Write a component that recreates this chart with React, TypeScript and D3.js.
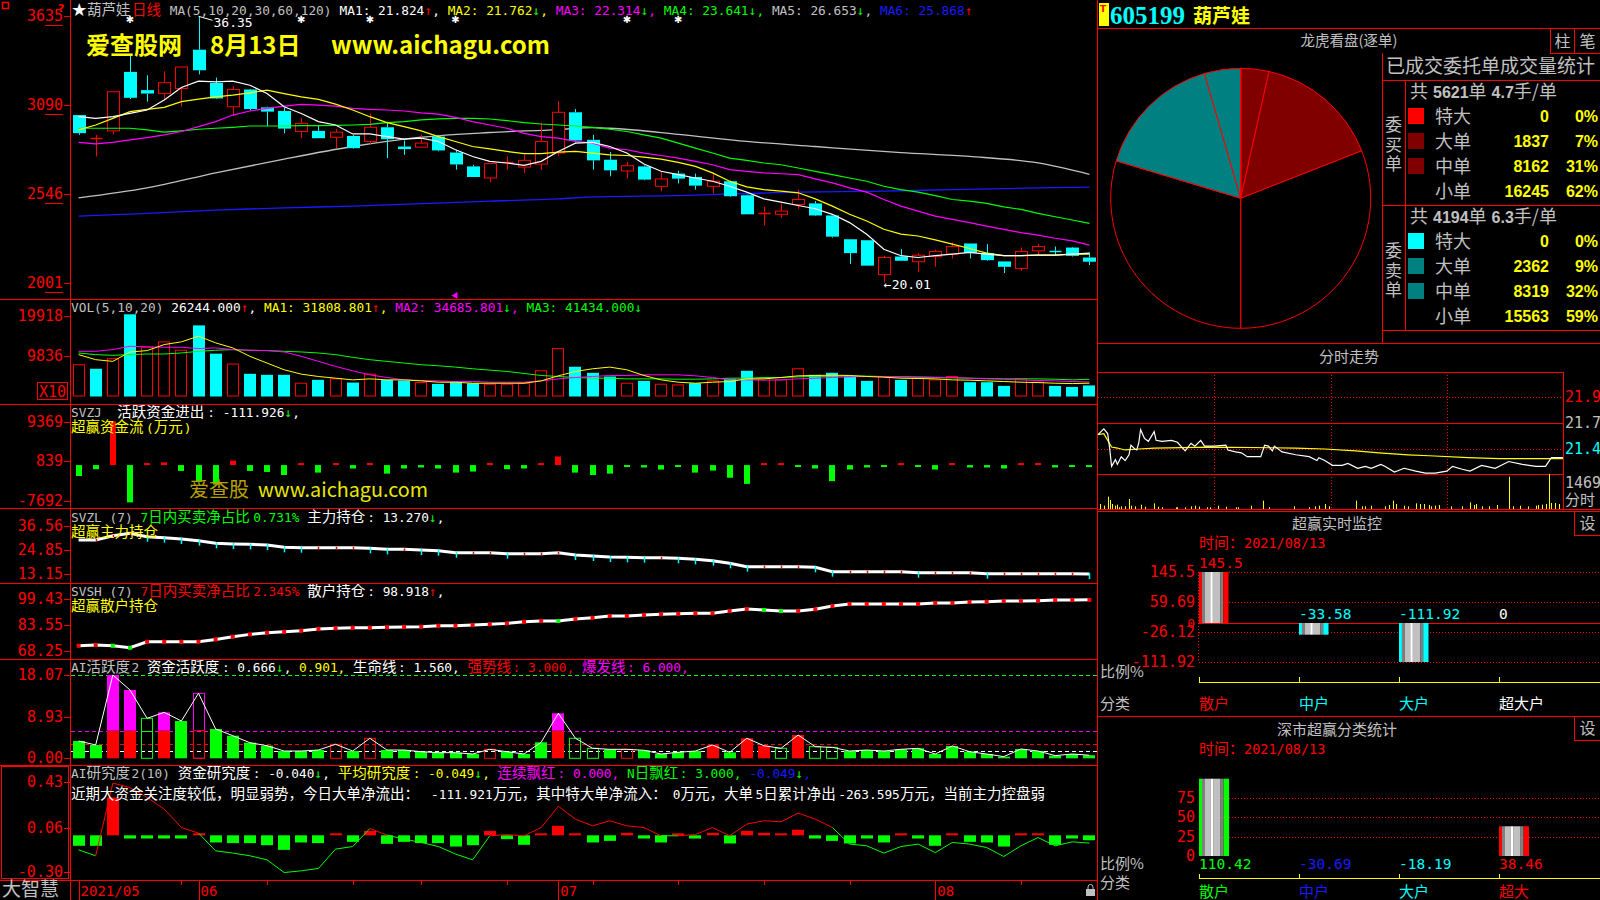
import React from 'react';
import * as d3 from 'd3';

const MONO = '"DejaVu Sans Mono", "Liberation Mono", monospace';
const SANS = '"Noto Sans CJK SC", "DejaVu Sans", sans-serif';
const RED = '#ff0000';
const CYAN = '#00ffff';
const GREEN = '#00ff00';
const YELLOW = '#ffff00';
const MAGENTA = '#ff00ff';
const GRAY = '#c0c0c0';
const WHITE = '#ffffff';
const BLUE = '#1a1aff';

// ---------- daily K line ----------
const dates = [
  '2021-05-21', '2021-05-24', '2021-05-25', '2021-05-26', '2021-05-27', '2021-05-28', '2021-05-31',
  '2021-06-01', '2021-06-02', '2021-06-03', '2021-06-04', '2021-06-07', '2021-06-08', '2021-06-09',
  '2021-06-10', '2021-06-11', '2021-06-15', '2021-06-16', '2021-06-17', '2021-06-18', '2021-06-21',
  '2021-06-22', '2021-06-23', '2021-06-24', '2021-06-25', '2021-06-28', '2021-06-29', '2021-06-30',
  '2021-07-01', '2021-07-02', '2021-07-05', '2021-07-06', '2021-07-07', '2021-07-08', '2021-07-09',
  '2021-07-12', '2021-07-13', '2021-07-14', '2021-07-15', '2021-07-16', '2021-07-19', '2021-07-20',
  '2021-07-21', '2021-07-22', '2021-07-23', '2021-07-26', '2021-07-27', '2021-07-28', '2021-07-29',
  '2021-07-30', '2021-08-02', '2021-08-03', '2021-08-04', '2021-08-05', '2021-08-06', '2021-08-09',
  '2021-08-10', '2021-08-11', '2021-08-12', '2021-08-13',
];
const opens = [30.29, 28.87, 29.32, 32.94, 31.82, 31.61, 31.92, 34.3, 32.26, 30.8, 31.86, 30.76, 30.54, 29.28, 29.32, 28.93, 29.01, 28.67, 29.54, 28.36, 28.32, 28.97, 27.99, 27.14, 26.43, 27.35, 27.1, 27.28, 27.96, 30.46, 28.77, 27.55, 26.86, 27.14, 25.92, 26.7, 26.49, 25.92, 26.23, 25.37, 24.26, 24.2, 24.8, 24.87, 24.13, 22.67, 22.61, 20.5, 21.61, 21.29, 21.61, 21.76, 22.41, 21.82, 21.31, 20.88, 21.96, 21.96, 22.16, 21.55];
const highs = [30.29, 29.07, 31.72, 33.95, 32.73, 32.98, 33.24, 36.35, 32.59, 32.06, 31.9, 30.8, 30.76, 30.09, 29.62, 29.42, 29.07, 30.39, 29.88, 28.73, 29.07, 29.07, 28.16, 27.24, 27.31, 27.75, 27.85, 29.83, 31.15, 30.66, 29.07, 28.02, 27.41, 27.2, 26.8, 26.88, 26.7, 26.78, 26.27, 25.41, 24.66, 24.87, 25.72, 25.01, 24.2, 22.67, 22.61, 21.65, 22.06, 21.82, 22.02, 22.47, 22.41, 22.37, 21.31, 22.16, 22.37, 22.22, 22.2, 21.86];
const lows = [29.07, 27.75, 29.11, 31.27, 31.11, 31.21, 30.8, 32.79, 31.27, 30.23, 30.56, 29.62, 29.17, 28.87, 28.87, 28.26, 28.22, 28.52, 27.65, 27.85, 28.32, 28.06, 26.94, 26.49, 26.17, 26.94, 26.74, 26.94, 27.79, 28.61, 26.94, 26.53, 26.39, 26.29, 25.62, 26.09, 25.72, 25.48, 25.27, 24.2, 23.52, 23.99, 24.54, 24.09, 22.77, 21.15, 21.05, 20.01, 21.35, 20.68, 20.98, 21.49, 21.49, 21.35, 20.6, 20.74, 21.69, 21.69, 21.61, 21.09];
const closes = [29.18, 28.88, 31.72, 31.35, 31.61, 32.28, 33.24, 33.04, 31.31, 31.86, 30.66, 30.5, 29.46, 29.78, 28.87, 29.24, 28.26, 29.54, 28.81, 28.2, 28.57, 28.12, 27.26, 26.49, 27.31, 27.39, 27.51, 28.67, 30.46, 28.73, 27.51, 26.9, 27.18, 26.33, 26.37, 26.39, 25.96, 26.23, 25.31, 24.2, 24.3, 24.4, 25.11, 24.13, 22.83, 21.82, 21.05, 21.55, 21.35, 21.69, 21.92, 22.22, 21.82, 21.39, 20.98, 21.92, 22.22, 21.9, 21.65, 21.29];
const prevClose = 28.95;

const ma5 = [30.19, 30.09, 30.19, 30.39, 30.6, 31.21, 31.98, 32.37, 32.33, 32.37, 32.12, 31.61, 30.8, 30.39, 29.89, 29.68, 29.13, 29.13, 28.97, 28.81, 28.87, 28.67, 28.16, 27.75, 27.45, 27.35, 27.2, 27.45, 28.06, 28.57, 28.61, 28.36, 27.96, 27.29, 26.84, 26.63, 26.43, 26.23, 25.92, 25.56, 25.15, 24.95, 24.74, 24.54, 24.2, 23.69, 22.98, 22.06, 21.66, 21.55, 21.66, 21.76, 21.86, 21.76, 21.66, 21.66, 21.7, 21.7, 21.76, 21.82];
const ma10 = [29.38, 29.68, 30.09, 30.5, 30.64, 30.76, 31.11, 31.27, 31.41, 31.51, 31.65, 31.82, 31.61, 31.41, 31.25, 30.96, 30.6, 30.19, 29.83, 29.58, 29.32, 28.97, 28.67, 28.36, 28.22, 28.06, 27.92, 27.92, 28.02, 28.06, 27.96, 27.85, 27.81, 27.71, 27.59, 27.39, 27.14, 26.74, 26.23, 25.88, 25.72, 25.62, 25.52, 25.15, 24.7, 24.2, 23.79, 23.28, 22.98, 22.87, 22.63, 22.37, 22.1, 21.82, 21.66, 21.66, 21.7, 21.7, 21.76, 21.76];
const ma20 = [28.61, 28.52, 28.61, 28.77, 28.91, 29.07, 29.28, 29.58, 29.89, 30.29, 30.54, 30.7, 30.84, 30.94, 30.9, 30.84, 30.7, 30.64, 30.6, 30.54, 30.43, 30.35, 30.15, 29.89, 29.68, 29.48, 29.17, 28.97, 28.87, 28.67, 28.57, 28.26, 28.16, 27.96, 27.81, 27.65, 27.45, 27.24, 26.94, 26.84, 26.74, 26.69, 26.63, 26.37, 26.13, 25.82, 25.56, 25.11, 24.7, 24.4, 24.09, 23.89, 23.69, 23.48, 23.28, 23.08, 22.92, 22.73, 22.57, 22.31];
const ma30 = [29.48, 29.48, 29.48, 29.48, 29.38, 29.24, 29.32, 29.42, 29.48, 29.54, 29.62, 29.62, 29.62, 29.64, 29.64, 29.66, 29.68, 29.72, 29.83, 29.89, 29.99, 30.05, 30.09, 30.09, 30.05, 29.95, 29.83, 29.74, 29.68, 29.62, 29.54, 29.42, 29.28, 29.07, 28.87, 28.57, 28.26, 27.96, 27.65, 27.51, 27.35, 27.24, 27.04, 26.84, 26.63, 26.43, 26.23, 25.92, 25.72, 25.56, 25.35, 25.11, 25.01, 24.87, 24.66, 24.5, 24.26, 24.05, 23.85, 23.64];
const ma60: [number, number][] = [[0, 25.21], [4, 25.82], [8, 26.74], [12, 27.59], [16, 28.36], [18, 28.67], [20, 28.93], [24, 29.22], [28, 29.4], [30, 29.52], [31, 29.48], [35, 29.11], [39, 28.67], [43, 28.36], [48, 27.99], [52, 27.75], [56, 27.35], [59, 26.65]];
const ma120: [number, number][] = [[0, 24.09], [4, 24.26], [8, 24.46], [12, 24.6], [16, 24.7], [20, 24.85], [24, 25.01], [28, 25.15], [30, 25.27], [35, 25.35], [42, 25.56], [47, 25.62], [51, 25.72], [56, 25.82], [59, 25.87]];
const signalIdx = [3, 13, 17, 22, 32, 35];
const priceTicks = [36.35, 30.9, 25.46, 20.01];

// ---------- volume ----------
const volumes = [77550, 67540, 92560, 202650, 120920, 134260, 113410, 175130, 105070, 79220, 55030, 52530, 52530, 31680, 40020, 42520, 33350, 54200, 40020, 38350, 33350, 30010, 34180, 31680, 29180, 29180, 31680, 62540, 117580, 72550, 57530, 48360, 31680, 37520, 29180, 27510, 31680, 37520, 42520, 62540, 44190, 40020, 67540, 52530, 57530, 48360, 37520, 48360, 40020, 44190, 40020, 48360, 34180, 34180, 25010, 42520, 34180, 25010, 22510, 26244];
const volMa5 = [102600, 90100, 85900, 109200, 112600, 127600, 134300, 148400, 131800, 119300, 98400, 81700, 65000, 54200, 48400, 44200, 40000, 42500, 40000, 40000, 37500, 34200, 34200, 31700, 31700, 31700, 31700, 37500, 50000, 60900, 67500, 71700, 65000, 50900, 40000, 34200, 31700, 34200, 35900, 42500, 42500, 45900, 50000, 50900, 51700, 50900, 48400, 46700, 44200, 43400, 42500, 40000, 39200, 37500, 35900, 34200, 33300, 31700, 30800, 31809];
const volMa10 = [110900, 110900, 115100, 123400, 121800, 120900, 120900, 117600, 119300, 115100, 113400, 112600, 109200, 98400, 85900, 73400, 62500, 52500, 45900, 40000, 38400, 37500, 35900, 35900, 34200, 34200, 34200, 37500, 42500, 45900, 48400, 50900, 50900, 52500, 52500, 52500, 50000, 45900, 40000, 40000, 39200, 40000, 42500, 44200, 45900, 47500, 48400, 48400, 48400, 47500, 46700, 45900, 44200, 42500, 41700, 40000, 38400, 37500, 35900, 34686];
const volMa20 = [106700, 102600, 100900, 102600, 104200, 104200, 106700, 110900, 113400, 115100, 113400, 112600, 110900, 109200, 106700, 102600, 95900, 90100, 85900, 81700, 77600, 75000, 71700, 67500, 64200, 60900, 55900, 50900, 48400, 45900, 44200, 44200, 42500, 42500, 42500, 41700, 41700, 42500, 44200, 44200, 45900, 45900, 47500, 48400, 49200, 49200, 49200, 48400, 47500, 46700, 45900, 45000, 44200, 43400, 42500, 42500, 42500, 41700, 40000, 41434];
const volTicks = [199180, 98360];

// ---------- indicators ----------
const svzj = [-2364, -886, 9454, -8051, 222, 591, -1256, -3619, -4210, 960, -1256, -1477, -2142, 74, -1625, 74, -739, 443, -1847, -739, -517, -739, -1625, -1403, 443, -886, -739, 295, 1847, -1625, -2142, -1847, -369, -517, -960, -295, -1625, -1182, -2733, -4062, 74, 74, -369, -739, -3471, -960, -517, -295, 74, -369, -960, 295, -517, -517, -739, 295, 74, -517, -369, -112];
const svzjTicks = [9369, 839, -7692];
const svzl = [29.66, 29.66, 31.75, 32.87, 31.27, 30.79, 30.15, 29.34, 28.06, 27.74, 27.58, 27.26, 26.14, 25.98, 25.98, 25.98, 25.98, 25.66, 25.17, 25.17, 24.85, 24.53, 23.57, 23.57, 23.57, 23.09, 23.09, 23.09, 23.57, 22.45, 21.97, 21.49, 21.33, 21.17, 21.17, 20.85, 20.36, 19.72, 18.44, 16.84, 16.84, 16.84, 16.84, 16.52, 14.43, 14.43, 14.43, 14.43, 14.43, 13.95, 13.95, 13.95, 13.95, 13.47, 13.47, 13.47, 13.47, 13.47, 13.47, 13.27];
const svzlTicks = [36.56, 24.85, 13.15];
const svsh = [71.25, 71.66, 71.25, 70.05, 73.67, 73.67, 73.67, 73.67, 75.07, 76.69, 78.09, 79.1, 79.7, 80.31, 81.31, 81.72, 82.12, 82.12, 82.32, 82.52, 82.72, 83.33, 83.33, 83.73, 84.13, 84.73, 85.74, 86.2, 86.14, 87.35, 88.16, 89.16, 89.16, 89.76, 90.17, 90.57, 90.77, 90.77, 92.18, 93.39, 92.78, 92.18, 92.18, 93.19, 95.2, 96.4, 96.4, 96.4, 96.4, 96.4, 97.01, 97.01, 97.61, 97.81, 98.21, 98.21, 98.42, 98.82, 98.82, 98.92];
const svshTicks = [99.43, 83.55, 68.25];
const aiAct = [3.75, 2.89, 18.07, 14.82, 8.67, 9.97, 8.09, 14.1, 6.36, 4.9, 3.38, 2.73, 1.58, 1.58, 1.8, 3.04, 1.58, 4.34, 1.8, 1.8, 1.43, 1.22, 1.22, 0.93, 1.95, 1.43, 0.93, 3.47, 9.76, 4.34, 2.17, 1.95, 1.95, 1.74, 0.93, 1.29, 1.58, 2.89, 1.29, 4.34, 2.73, 2.17, 5.05, 2.52, 2.37, 1.58, 1.8, 1.58, 1.95, 2.17, 0.93, 2.68, 1.43, 0.93, 0.36, 2.02, 1.58, 0.58, 0.93, 0.67];
// g green bar, G green frame, r red bar (magenta above 爆发线), R red frame, M magenta frame
const aiStyle = 'ggrrGrgMgggggggRgRggggggRgggrGGgRggggrgrrGrGGggggggggggggggg';
const aiActTicks = [18.07, 8.93, 0];
const aiLevels: [number, string][] = [[18.07, GREEN], [6, MAGENTA], [3, RED], [1.56, WHITE]];
const aiRes = [-0.085, -0.085, 0.307, -0.026, -0.026, -0.026, -0.026, 0.012, -0.058, -0.063, -0.063, -0.08, -0.118, -0.058, -0.063, 0.012, -0.053, 0.036, -0.069, -0.053, -0.063, -0.063, -0.091, -0.08, 0.036, -0.031, -0.077, 0.01, 0.077, 0.01, -0.058, -0.045, 0.02, -0.026, -0.058, 0.01, -0.026, 0.02, -0.066, 0.036, 0.02, 0.01, 0.045, -0.026, -0.045, -0.066, -0.026, -0.058, 0.01, -0.026, -0.085, 0.01, -0.053, -0.058, -0.091, 0.01, 0.01, -0.077, -0.026, -0.04];
const aiLine = [-0.118, -0.166, 0.423, 0.388, 0.307, 0.212, 0.063, 0.018, -0.126, -0.144, -0.166, -0.199, -0.302, -0.288, -0.269, -0.112, -0.091, 0.055, 0.002, -0.031, -0.058, -0.091, -0.152, -0.199, -0.004, 0.006, -0.004, 0.063, 0.236, 0.131, 0.077, 0.118, 0.077, 0.063, -0.004, -0.004, 0.006, 0.063, -0.004, 0.091, 0.118, 0.11, 0.18, 0.131, 0.063, -0.071, -0.085, -0.144, -0.091, -0.071, -0.14, -0.058, -0.071, -0.099, -0.172, -0.085, -0.018, -0.085, -0.053, -0.063];
const aiResTicks = [0.43, 0.06, -0.3];

const monthTicks: [string, string][] = [['2021-05-21', '2021/05'], ['2021-06-01', '06'], ['2021-07-01', '07'], ['2021-08-02', '08']];
const weekTicks = ['2021-05-31', '2021-06-07', '2021-06-15', '2021-06-21', '2021-06-28', '2021-07-05', '2021-07-12', '2021-07-19', '2021-07-26', '2021-08-09'];

// ---------- right side ----------
const orderCats = ['特大', '大单', '中单', '小单'];
const buyCounts = [0, 1837, 8162, 16245];
const buyPct = ['0%', '7%', '31%', '62%'];
const buyColors = ['#ff0000', '#800000', '#800000', '#000000'];
const sellCounts = [0, 2362, 8319, 15563];
const sellPct = ['0%', '9%', '32%', '59%'];
const sellColors = ['#00ffff', '#008080', '#008080', '#000000'];

const minutePrice: [number, number][] = [[0, 21.58], [3, 21.64], [5, 21.59], [6, 21.44], [7, 21.25], [9, 21.32], [10, 21.27], [12, 21.35], [14, 21.31], [16, 21.37], [17, 21.47], [19, 21.43], [20, 21.42], [21, 21.49], [22, 21.63], [24, 21.54], [26, 21.51], [29, 21.61], [30, 21.52], [33, 21.51], [38, 21.52], [41, 21.5], [45, 21.41], [48, 21.49], [50, 21.46], [53, 21.52], [55, 21.46], [60, 21.46], [66, 21.47], [67, 21.42], [71, 21.4], [74, 21.39], [77, 21.35], [84, 21.35], [86, 21.47], [88, 21.46], [90, 21.41], [91, 21.46], [95, 21.4], [102, 21.37], [109, 21.35], [113, 21.31], [114, 21.34], [117, 21.31], [121, 21.26], [126, 21.26], [129, 21.28], [134, 21.23], [138, 21.25], [141, 21.23], [146, 21.27], [148, 21.25], [153, 21.19], [158, 21.23], [164, 21.2], [169, 21.18], [174, 21.18], [180, 21.2], [183, 21.25], [188, 21.22], [192, 21.2], [198, 21.26], [205, 21.23], [212, 21.3], [219, 21.27], [226, 21.25], [231, 21.25], [234, 21.34], [240, 21.34]];
const minuteAvg: [number, number][] = [[0, 21.58], [3, 21.59], [7, 21.45], [10, 21.44], [14, 21.42], [21, 21.43], [29, 21.44], [58, 21.45], [102, 21.44], [117, 21.43], [133, 21.41], [145, 21.39], [160, 21.37], [171, 21.36], [191, 21.34], [207, 21.33], [232, 21.33], [240, 21.33]];
const minuteVol: [number, number][] = [[1, 210], [3, 140], [5, 518], [6, 378], [7, 210], [9, 140], [10, 182], [11, 70], [12, 112], [14, 112], [16, 420], [17, 140], [19, 112], [22, 182], [24, 98], [29, 238], [31, 98], [33, 70], [40, 70], [41, 70], [45, 70], [48, 112], [50, 140], [52, 98], [56, 70], [58, 70], [62, 140], [66, 98], [71, 70], [72, 70], [79, 140], [85, 350], [88, 70], [101, 112], [109, 70], [112, 112], [114, 140], [117, 210], [119, 112], [133, 350], [136, 112], [138, 112], [141, 140], [148, 112], [150, 168], [152, 350], [154, 210], [158, 140], [160, 112], [164, 238], [166, 210], [168, 210], [171, 168], [172, 112], [174, 140], [176, 168], [182, 112], [188, 112], [192, 280], [194, 168], [195, 210], [198, 112], [202, 112], [206, 168], [212, 1358], [214, 112], [218, 140], [222, 112], [226, 140], [227, 168], [229, 182], [231, 210], [233, 1469], [234, 252], [236, 252], [238, 210]];
const minuteTicks: [number, string][] = [[21.97, RED], [21.7, GRAY], [21.43, CYAN]];

const monCats = ['散户', '中户', '大户', '超大户'];
const monValues = [145.5, -33.58, -111.92, 0];
const monColors = [RED, CYAN, CYAN, WHITE];
const monTicks = [145.5, 59.69, 0, -26.12, -111.92];
const statCats = ['散户', '中户', '大户', '超大'];
const statValues = [110.42, -30.69, -18.19, 38.46];
const statColors = [GREEN, BLUE, CYAN, RED];
const statTicks = [75, 50, 25, 0];

// ---------- helpers ----------
const WIDE_RE = /[\u2605\u2e80-\u9fff\uff00-\uffef\u3000-\u303f]/;
const RUN_RE = /[\u2605\u2e80-\u9fff\uff00-\uffef\u3000-\u303f]+|[^\u2605\u2e80-\u9fff\uff00-\uffef\u3000-\u303f]+/g;
const NARROW = 7.72;
const WIDE = 15;

function rich(x: number, y: number, segs: [string, string][], k: string) {
  const out: React.ReactNode[] = [];
  let cx = x;
  segs.forEach(([t, c], si) => {
    (t.match(RUN_RE) || []).forEach((r, ri) => {
      const wide = WIDE_RE.test(r[0]);
      out.push(
        <text key={`${k}-${si}-${ri}`} x={cx} y={y} fill={c} xmlSpace="preserve"
          style={{ whiteSpace: 'pre' }}
          fontFamily={wide ? SANS : MONO} fontSize={wide ? 14.5 : 12.8}>{r}</text>,
      );
      cx += r.length * (wide ? WIDE : NARROW);
    });
  });
  return out;
}

const stripes: [number, number, string][] = [
  [0, 0.1, 'E'], [0.1, 0.2, '#808080'], [0.2, 0.38, '#c0c0c0'], [0.38, 0.47, '#ffffff'],
  [0.47, 0.72, '#c0c0c0'], [0.72, 0.82, '#808080'], [0.82, 1, 'E'],
];
function stripedBar(k: string, x0: number, w: number, ya: number, yb: number, edge: string) {
  const top = Math.min(ya, yb);
  const h = Math.abs(yb - ya);
  return stripes.map(([a, b, c], i) => (
    <rect key={k + i} x={x0 + a * w} y={top} width={(b - a) * w} height={h} fill={c === 'E' ? edge : c} />
  ));
}

const px = (v: number) => Math.round(v) + 0.5;

export default function App() {
  const x = d3.scalePoint<string>().domain(dates).range([70, 1098]).padding(0.5);
  const X = (i: number) => x(dates[i])!;
  const bw = 12;

  const yMain = d3.scaleLinear().domain([20.01, 36.35]).range([282.6, 16.3]);
  const yVol = d3.scaleLinear().domain([0, 199180]).range([396, 315.7]);
  const yZj = d3.scaleLinear().domain([-7692, 9369]).range([500.7, 421.7]);
  const yZl = d3.scaleLinear().domain([13.15, 36.56]).range([574.3, 525.7]);
  const ySh = d3.scaleLinear().domain([68.25, 99.43]).range([650.7, 599]);
  const yAct = d3.scaleLinear().domain([0, 18.07]).range([758.3, 675]);
  const yRes = d3.scaleLinear().domain([-0.3, 0.43]).range([872.3, 782.3]);

  const idxLine = (s: d3.ScaleLinear<number, number>) =>
    d3.line<number>().x((_, i) => X(i)).y((d) => s(d));
  const pairLine = (s: d3.ScaleLinear<number, number>) =>
    d3.line<[number, number]>().x((d) => X(d[0])).y((d) => s(d[1])).curve(d3.curveMonotoneX);

  const leftTicks = (k: string, s: d3.ScaleLinear<number, number>, ticks: number[],
    fmt: (v: number) => string, underline = false) =>
    ticks.map((t, i) => {
      const y = s(t);
      return (
        <g key={k + i}>
          <line x1={64} x2={70} y1={px(y)} y2={px(y)} stroke={RED} />
          <text x={63} y={y + 5} textAnchor="end" fill={RED} fontFamily={MONO} fontSize={15}>{fmt(t)}</text>
          {underline && <line x1={63 - 18} x2={63} y1={px(y + 9)} y2={px(y + 9)} stroke={RED} />}
        </g>
      );
    });

  // pie
  const pieValues = [...buyCounts, ...sellCounts.slice().reverse()];
  const pieColors = [...buyColors, ...sellColors.slice().reverse()];
  const arcs = d3.pie<number>().sort(null).value((d) => d)(pieValues);
  const arcGen = d3.arc<d3.PieArcDatum<number>>().innerRadius(0).outerRadius(130);

  // minute chart
  const xm = d3.scaleLinear().domain([0, 240]).range([1098, 1563]);
  const ym = d3.scaleLinear().domain([21.43, 21.97]).range([449, 397]);
  const vm = d3.scaleLinear().domain([0, 1469]).range([509, 474]);
  const mLine = d3.line<[number, number]>().x((d) => xm(d[0])).y((d) => ym(d[1]));

  // monitor bars
  const xc = d3.scalePoint<string>().domain(monCats).range([1199, 1499]);
  const xs = d3.scalePoint<string>().domain(statCats).range([1199, 1499]);
  const yMon = d3.scaleLinear().domain([-111.92, 0, 145.5]).range([662, 623, 572]);
  const yStat = d3.scaleLinear().domain([0, 100]).range([856, 778.7]).clamp(true);

  const sepYs = [299, 404, 508, 583, 659, 765, 880];

  return (
    <div style={{ position: 'absolute', left: 0, top: 0, width: 1600, height: 900, background: '#000', overflow: 'hidden' }}>
      <svg width={1600} height={900} style={{ display: 'block' }}>
        <rect width={1600} height={900} fill="#000" />

        {/* ===== main K line ===== */}
        <path d={pairLine(yMain)(ma120)!} fill="none" stroke={BLUE} strokeWidth={1.3} />
        <path d={pairLine(yMain)(ma60)!} fill="none" stroke={GRAY} strokeWidth={1.3} />
        {dates.map((d, i) => {
          const cx = px(X(i));
          const o = opens[i], c = closes[i];
          const up = c >= o;
          const col = up ? RED : CYAN;
          const top = yMain(Math.max(o, c));
          const bot = yMain(Math.min(o, c));
          const flat = bot - top < 1.5;
          return (
            <g key={'k' + d}>
              <line x1={cx} x2={cx} y1={yMain(highs[i])} y2={top} stroke={col} />
              <line x1={cx} x2={cx} y1={bot} y2={yMain(lows[i])} stroke={col} />
              {flat ? (
                <line x1={cx - bw / 2} x2={cx + bw / 2} y1={px(top)} y2={px(top)} stroke={col} strokeWidth={1.5} />
              ) : up ? (
                <rect x={cx - bw / 2} y={top} width={bw} height={bot - top} fill="#000" stroke={RED} />
              ) : (
                <rect x={cx - bw / 2 - 0.5} y={top} width={bw + 1} height={bot - top} fill={CYAN} />
              )}
            </g>
          );
        })}
        <path d={idxLine(yMain)(ma30)!} fill="none" stroke={GREEN} strokeWidth={1.2} />
        <path d={idxLine(yMain)(ma20)!} fill="none" stroke={MAGENTA} strokeWidth={1.2} />
        <path d={idxLine(yMain)(ma10)!} fill="none" stroke={YELLOW} strokeWidth={1.2} />
        <path d={idxLine(yMain)(ma5)!} fill="none" stroke={WHITE} strokeWidth={1.2} />
        {signalIdx.map((i) => (
          <text key={'sg' + i} x={X(i)} y={23} textAnchor="middle" fill={WHITE} fontSize={10} fontFamily="DejaVu Sans">✱</text>
        ))}
        <line x1={X(7)} y1={yMain(36.35)} x2={X(7) + 14} y2={yMain(36.35) + 4} stroke={WHITE} />
        <text x={X(7) + 15} y={27} fill={WHITE} fontFamily={MONO} fontSize={13}>36.35</text>
        <text x={X(47)} y={yMain(20.01) + 6} fill={WHITE} fontFamily={MONO} fontSize={13}>←20.01</text>
        <polygon points={`${X(22) - 4},295.5 ${X(22) + 2},292 ${X(22) + 2},299`} fill={MAGENTA} />
        <g fontFamily={SANS} fontWeight={700} fill={YELLOW} fontSize={24}>
          <text x={86} y={54}>爱查股网</text>
          <text x={210} y={54}>8月13日</text>
          <text x={331} y={54} textLength={219} lengthAdjust="spacingAndGlyphs">www.aichagu.com</text>
        </g>
        {rich(72, 14.5, [['★', WHITE], ['葫芦娃', GRAY], ['日线', RED], [' MA(5,10,20,30,60,120) ', GRAY],
          ['MA1: 21.824', WHITE], ['↑', RED], [', ', WHITE], ['MA2: 21.762', YELLOW], ['↓', GREEN], [', ', YELLOW],
          ['MA3: 22.314', MAGENTA], ['↓', GREEN], [', ', MAGENTA], ['MA4: 23.641', GREEN], ['↓', GREEN], [', ', GREEN],
          ['MA5: 26.653', GRAY], ['↓', GREEN], [', ', GRAY], ['MA6: 25.868', BLUE], ['↑', RED]], 'hm')}
        {leftTicks('tm', yMain, priceTicks, (v) => (v * 100).toFixed(0), true)}

        {/* ===== volume ===== */}
        {volumes.map((v, i) => {
          const prev = i === 0 ? prevClose : closes[i - 1];
          const up = closes[i] >= prev;
          const top = yVol(v), base = yVol(0);
          const cx = Math.round(X(i));
          return up ? (
            <rect key={'v' + i} x={cx - 6 + 0.5} y={top} width={bw - 1} height={base - top} fill="none" stroke={RED} />
          ) : (
            <rect key={'v' + i} x={cx - 6} y={top} width={bw} height={base - top + 0.5} fill={CYAN} />
          );
        })}
        <path d={idxLine(yVol)(volMa20)!} fill="none" stroke={GREEN} />
        <path d={idxLine(yVol)(volMa10)!} fill="none" stroke={MAGENTA} />
        <path d={idxLine(yVol)(volMa5)!} fill="none" stroke={YELLOW} />
        {rich(71, 312, [['VOL(5,10,20) ', GRAY], ['26244.000', WHITE], ['↑', RED], [', ', WHITE],
          ['MA1: 31808.801', YELLOW], ['↑', RED], [', ', YELLOW], ['MA2: 34685.801', MAGENTA], ['↓', GREEN],
          [', ', MAGENTA], ['MA3: 41434.000', GREEN], ['↓', GREEN]], 'hv')}
        {leftTicks('tv', yVol, volTicks, (v) => (v / 10).toFixed(0))}
        <rect x={37.5} y={382.5} width={30} height={17} fill="none" stroke={RED} />
        <text x={39} y={397} fill={RED} fontFamily={MONO} fontSize={15}>X10</text>

        {/* ===== SVZJ ===== */}
        {svzj.map((v, i) => {
          const y0 = yZj(0), y1 = yZj(v);
          const h = Math.max(2, Math.abs(y1 - y0));
          const top = v > 0 ? y0 - h : y0;
          return <rect key={'zj' + i} x={Math.round(X(i)) - 3} y={top} width={6} height={h} fill={v > 0 ? RED : GREEN} />;
        })}
        <text x={189} y={497} fill="#b8a000" fontFamily={SANS} fontSize={20}>爱查股</text>
        <text x={258} y={497} fill="#e8e800" fontFamily={SANS} fontSize={20} textLength={170} lengthAdjust="spacingAndGlyphs">www.aichagu.com</text>
        {rich(71, 417, [['SVZJ  ', GRAY], ['活跃资金进出: -111.926', WHITE], ['↓', GREEN], [',', WHITE]], 'hz')}
        {rich(71, 432, [['超赢资金流(万元)', YELLOW]], 'hz2')}
        {leftTicks('tz', yZj, svzjTicks, (v) => v.toFixed(0))}

        {/* ===== SVZL ===== */}
        <path d={idxLine(yZl)(svzl)!} fill="none" stroke={WHITE} strokeWidth={3} />
        {svzl.map((v, i) => {
          if (i === 0) return null;
          const down = v < svzl[i - 1];
          const y = yZl(v);
          return <line key={'zl' + i} x1={px(X(i))} x2={px(X(i))} y1={y - 1} y2={down ? y + 5 : y + 1.5} stroke={down ? CYAN : RED} strokeWidth={1.5} />;
        })}
        {rich(71, 522, [['SVZL (7) ', GRAY], ['7日内买卖净占比0.731% ', GREEN], ['主力持仓: 13.270', WHITE], ['↓', GREEN], [',', WHITE]], 'hl')}
        {rich(71, 537, [['超赢主力持仓', YELLOW]], 'hl2')}
        {leftTicks('tl', yZl, svzlTicks, (v) => v.toFixed(2))}

        {/* ===== SVSH ===== */}
        <path d={idxLine(ySh)(svsh)!} fill="none" stroke={WHITE} strokeWidth={3} />
        {svsh.map((v, i) => {
          const up = i === 0 || v >= svsh[i - 1];
          return <rect key={'sh' + i} x={X(i) - 2} y={ySh(v) - 2} width={4} height={4} fill={up ? RED : GREEN} />;
        })}
        {rich(71, 596, [['SVSH (7) ', GRAY], ['7日内买卖净占比2.345% ', RED], ['散户持仓: 98.918', WHITE], ['↑', RED], [',', WHITE]], 'hs')}
        {rich(71, 611, [['超赢散户持仓', YELLOW]], 'hs2')}
        {leftTicks('ts', ySh, svshTicks, (v) => v.toFixed(2))}

        {/* ===== AI 活跃度 ===== */}
        {aiLevels.map(([v, c], i) => (
          <line key={'al' + i} x1={71} x2={1097} y1={px(yAct(v))} y2={px(yAct(v))} stroke={c} strokeDasharray="4 3" />
        ))}
        {aiAct.map((v, i) => {
          const s = aiStyle[i];
          const x0 = Math.round(X(i)) - 6;
          const y0 = yAct(0), y6 = yAct(Math.min(v, 6)), yt = yAct(v);
          if (s === 'g') return <rect key={'a' + i} x={x0} y={yt} width={bw} height={y0 - yt} fill={GREEN} />;
          if (s === 'R') return <rect key={'a' + i} x={x0 + 0.5} y={yt} width={bw - 1} height={y0 - yt} fill="none" stroke={RED} />;
          if (s === 'G')
            return (
              <g key={'a' + i}>
                <rect x={x0 + 0.5} y={yt} width={bw - 1} height={y0 - yt} fill="none" stroke={GREEN} />
                {v > 6 && <line x1={x0} x2={x0 + bw} y1={px(y6)} y2={px(y6)} stroke={GREEN} />}
              </g>
            );
          if (s === 'M')
            return (
              <g key={'a' + i}>
                <rect x={x0 + 0.5} y={yt} width={bw - 1} height={y0 - yt} fill="none" stroke={MAGENTA} />
                <rect x={x0 + 0.5} y={y6} width={bw - 1} height={y0 - y6} fill="none" stroke={RED} />
              </g>
            );
          return (
            <g key={'a' + i}>
              <rect x={x0} y={y6} width={bw} height={y0 - y6} fill={RED} />
              {v > 6 && <rect x={x0} y={yt} width={bw} height={y6 - yt} fill={MAGENTA} />}
            </g>
          );
        })}
        <path d={idxLine(yAct)(aiAct)!} fill="none" stroke={WHITE} />
        {rich(71, 672, [['AI活跃度2 ', GRAY], ['资金活跃度: 0.666', WHITE], ['↓', GREEN], [', ', WHITE], ['0.901, ', YELLOW],
          ['生命线: 1.560, ', WHITE], ['强势线: 3.000, ', RED], ['爆发线: 6.000,', MAGENTA]], 'ha')}
        {leftTicks('ta', yAct, aiActTicks, (v) => v.toFixed(2))}

        {/* ===== AI 研究度 ===== */}
        {aiRes.map((v, i) => {
          const y0 = yRes(0), y1 = yRes(v);
          const h = Math.max(2, Math.abs(y1 - y0));
          const top = v > 0 ? y0 - h : y0;
          return <rect key={'r' + i} x={Math.round(X(i)) - 6} y={top} width={bw} height={h} fill={v > 0 ? RED : GREEN} />;
        })}
        {aiLine.slice(1).map((v, j) => {
          const a = aiLine[j];
          return <line key={'rl' + j} x1={X(j)} y1={yRes(a)} x2={X(j + 1)} y2={yRes(v)} stroke={(a + v) / 2 > 0 ? RED : GREEN} />;
        })}
        {rich(71, 778, [['AI研究度2(10) ', GRAY], ['资金研究度: -0.040', WHITE], ['↓', GREEN], [', ', WHITE],
          ['平均研究度: -0.049', YELLOW], ['↓', GREEN], [', ', YELLOW], ['连续飘红: 0.000, ', MAGENTA],
          ['N日飘红: 3.000, ', GREEN], ['-0.049', BLUE], ['↓', GREEN], [',', BLUE]], 'hr')}
        {rich(71, 799, [['近期大资金关注度较低，明显弱势，今日大单净流出：-111.921万元，其中特大单净流入：0万元，大单5日累计净出-263.595万元，当前主力控盘弱', WHITE]], 'hr2')}
        {leftTicks('tr', yRes, aiResTicks, (v) => v.toFixed(2))}
        <rect x={1.5} y={766.5} width={67} height={112} fill="none" stroke={RED} />

        {/* ===== frame & date axis ===== */}
        {sepYs.map((y) => (
          <line key={'sep' + y} x1={0} x2={1097} y1={y + 0.5} y2={y + 0.5} stroke={RED} />
        ))}
        <line x1={70.5} x2={70.5} y1={0} y2={900} stroke={RED} />
        <line x1={1097.5} x2={1097.5} y1={0} y2={900} stroke={RED} />
        {weekTicks.map((d) => (
          <line key={'wt' + d} x1={px(x(d)!)} x2={px(x(d)!)} y1={881} y2={885} stroke={RED} />
        ))}
        {monthTicks.map(([d, label]) => (
          <g key={'mt' + d}>
            <line x1={px(x(d)!)} x2={px(x(d)!)} y1={881} y2={900} stroke={RED} />
            <text x={x(d)! + 2} y={896} fill={RED} fontFamily={MONO} fontSize={14}>{label}</text>
          </g>
        ))}
        <text x={2} y={896} fill={GRAY} fontFamily={SANS} fontSize={19}>大智慧</text>
        <g stroke={GRAY} fill="none">
          <rect x={1086.5} y={889.5} width={8} height={6} fill={GRAY} />
          <path d="M1088 889.5 v-2.5 a2.5 2.5 0 0 1 5 0 v2.5" />
        </g>
        <rect x={2.5} y={2.5} width={6} height={6} fill="none" stroke={RED} strokeWidth={1.5} />
        <text x={58} y={12} fill={RED} fontFamily="DejaVu Sans" fontWeight={700} fontSize={11}>?</text>

        {/* ===== right: title ===== */}
        <rect x={1099} y={3} width={10} height={23} fill={YELLOW} />
        <text x={1100} y={12} fill={RED} fontFamily="DejaVu Sans" fontWeight={700} fontSize={9}>T</text>
        <text x={1110} y={24} fill={CYAN} fontFamily='"Liberation Serif", serif' fontWeight={700} fontSize={25}>605199</text>
        <text x={1193} y={23} fill={YELLOW} fontFamily={SANS} fontWeight={700} fontSize={19}>葫芦娃</text>
        <line x1={1097} x2={1600} y1={28.5} y2={28.5} stroke={RED} />

        {/* ===== 龙虎看盘 ===== */}
        <text x={1349} y={46} textAnchor="middle" fill={GRAY} fontFamily={SANS} fontSize={14.5}>龙虎看盘(逐单)</text>
        <rect x={1550.5} y={28.5} width={24} height={25} fill="none" stroke={RED} />
        <rect x={1574.5} y={28.5} width={26} height={25} fill="none" stroke={RED} />
        <text x={1562.5} y={47} textAnchor="middle" fill={GRAY} fontFamily={SANS} fontSize={16}>柱</text>
        <text x={1587.5} y={47} textAnchor="middle" fill={GRAY} fontFamily={SANS} fontSize={16}>笔</text>
        <g transform="translate(1240.7,198.3)">
          {arcs.map((a, i) => (
            <path key={'pie' + i} d={arcGen(a)!} fill={pieColors[i]} stroke={RED} strokeWidth={1} />
          ))}
        </g>
        <line x1={1382.5} x2={1382.5} y1={53} y2={344} stroke={RED} />
        <text x={1386} y={73} fill={GRAY} fontFamily={SANS} fontSize={19}>已成交委托单成交量统计</text>
        {[80.5, 205.5, 330.5].map((y) => (
          <line key={'tl' + y} x1={1382} x2={1600} y1={y} y2={y} stroke={RED} />
        ))}
        <line x1={1405.5} x2={1405.5} y1={80} y2={331} stroke={RED} />
        {[
          { y0: 98, vert: ['委', '买', '单'], vy: 131, total: '5621', avg: '4.7', counts: buyCounts, pct: buyPct, colors: buyColors, rowY: 116 },
          { y0: 223, vert: ['委', '卖', '单'], vy: 257, total: '4194', avg: '6.3', counts: sellCounts, pct: sellPct, colors: sellColors, rowY: 241 },
        ].map((side, si) => (
          <g key={'side' + si}>
            <text x={1410} y={side.y0} fill={GRAY} fontSize={18} fontFamily={SANS}>
              共<tspan fontFamily='"Liberation Sans", sans-serif' fontWeight={700} fontSize={16} dx={5}>{side.total}</tspan>
              <tspan>单</tspan>
              <tspan fontFamily='"Liberation Sans", sans-serif' fontWeight={700} fontSize={16} dx={5}>{side.avg}</tspan>
              <tspan>手/单</tspan>
            </text>
            {side.vert.map((ch, j) => (
              <text key={ch + j} x={1393.5} y={side.vy + j * 19.5} textAnchor="middle" fill={GRAY} fontFamily={SANS} fontSize={17}>{ch}</text>
            ))}
            {orderCats.map((c, j) => {
              const cy = side.rowY + j * 25;
              return (
                <g key={c}>
                  {side.colors[j] !== '#000000' && <rect x={1408} y={cy - 8} width={16} height={16} fill={side.colors[j]} />}
                  <text x={1435} y={cy + 6.5} fill={GRAY} fontFamily={SANS} fontSize={18}>{c}</text>
                  <text x={1549} y={cy + 6} textAnchor="end" fill={YELLOW} fontFamily='"Liberation Sans", sans-serif' fontWeight={700} fontSize={16}>{side.counts[j]}</text>
                  <text x={1598} y={cy + 6} textAnchor="end" fill={YELLOW} fontFamily='"Liberation Sans", sans-serif' fontWeight={700} fontSize={16}>{side.pct[j]}</text>
                </g>
              );
            })}
          </g>
        ))}
        <line x1={1097} x2={1600} y1={343.5} y2={343.5} stroke={RED} />

        {/* ===== 分时走势 ===== */}
        <text x={1349} y={362} textAnchor="middle" fill={GRAY} fontFamily={SANS} fontSize={15}>分时走势</text>
        {[372, 423, 474].map((y) => (
          <line key={'mh' + y} x1={1098} x2={1563} y1={y + 0.5} y2={y + 0.5} stroke={RED} />
        ))}
        {[21.97, 21.43].map((v) => (
          <line key={'md' + v} x1={1098} x2={1563} y1={px(ym(v))} y2={px(ym(v))} stroke={RED} strokeDasharray="1 2" />
        ))}
        {[60, 120, 180].map((t) => (
          <line key={'mv' + t} x1={px(xm(t))} x2={px(xm(t))} y1={372} y2={509} stroke={RED} strokeDasharray="1 2" />
        ))}
        <line x1={1563.5} x2={1563.5} y1={372} y2={509} stroke={RED} />
        {minuteVol.map(([t, v]) => (
          <line key={'mvol' + t} x1={px(xm(t))} x2={px(xm(t))} y1={vm(0)} y2={vm(v)} stroke={YELLOW} />
        ))}
        <path d={mLine(minuteAvg)!} fill="none" stroke={YELLOW} strokeWidth={1.2} />
        <path d={mLine(minutePrice)!} fill="none" stroke={WHITE} strokeWidth={1.2} />
        {minuteTicks.map(([v, c]) => (
          <text key={'mtl' + v} x={1565} y={ym(v) + 5} fill={c} fontFamily={MONO} fontSize={15}>{v.toFixed(2)}</text>
        ))}
        <text x={1565} y={488} fill={GRAY} fontFamily={MONO} fontSize={15}>1469</text>
        <text x={1565} y={505} fill={GRAY} fontFamily={SANS} fontSize={15}>分时</text>
        <line x1={1097} x2={1600} y1={509.5} y2={509.5} stroke={RED} />
        <line x1={1097} x2={1600} y1={511.5} y2={511.5} stroke={RED} />

        {/* ===== 超赢实时监控 ===== */}
        <text x={1337} y={529} textAnchor="middle" fill={GRAY} fontFamily={SANS} fontSize={15}>超赢实时监控</text>
        <rect x={1574.5} y={511.5} width={26} height={24} fill="none" stroke={RED} />
        <text x={1587.5} y={529} textAnchor="middle" fill={GRAY} fontFamily={SANS} fontSize={16}>设</text>
        <text x={1199} y={548} fill={RED}>
          <tspan fontFamily={SANS} fontSize={15}>时间：</tspan>
          <tspan fontFamily={MONO} fontSize={13.5}>2021/08/13</tspan>
        </text>
        {monTicks.map((t) => (
          <g key={'mon' + t}>
            <line x1={1199} x2={1600} y1={px(yMon(t))} y2={px(yMon(t))} stroke={RED} strokeDasharray={t === 0 ? undefined : '1 2'} />
            <text x={1195} y={yMon(t) + 5} textAnchor="end" fill={RED} fontFamily={MONO} fontSize={t === 0 ? 13 : 15}>{t}</text>
          </g>
        ))}
        <line x1={1198.5} x2={1198.5} y1={572} y2={662} stroke={RED} strokeDasharray="1 2" />
        {monCats.map((c, i) => {
          const v = monValues[i];
          const x0 = xc(c)!;
          return (
            <g key={'mc' + c}>
              {v !== 0 && stripedBar('mb' + i, x0, 29.5, yMon(0), yMon(v), monColors[i])}
              <text x={x0} y={v > 0 ? yMon(v) - 4 : 619} fill={monColors[i]} fontFamily={MONO} fontSize={14.5}>{v}</text>
              <line x1={px(x0)} x2={px(x0)} y1={677} y2={682} stroke={YELLOW} />
              <text x={x0} y={709} fill={monColors[i]} fontFamily={SANS} fontSize={15}>{c}</text>
            </g>
          );
        })}
        <line x1={1199} x2={1600} y1={682.5} y2={682.5} stroke={YELLOW} />
        <text x={1100} y={677} fill={GRAY} fontFamily={SANS} fontSize={15}>比例%</text>
        <text x={1100} y={709} fill={GRAY} fontFamily={SANS} fontSize={15}>分类</text>
        <line x1={1097} x2={1600} y1={716.5} y2={716.5} stroke={RED} />

        {/* ===== 深市超赢分类统计 ===== */}
        <text x={1337} y={735} textAnchor="middle" fill={GRAY} fontFamily={SANS} fontSize={15}>深市超赢分类统计</text>
        <rect x={1574.5} y={716.5} width={26} height={24} fill="none" stroke={RED} />
        <text x={1587.5} y={734} textAnchor="middle" fill={GRAY} fontFamily={SANS} fontSize={16}>设</text>
        <text x={1199} y={754} fill={RED}>
          <tspan fontFamily={SANS} fontSize={15}>时间：</tspan>
          <tspan fontFamily={MONO} fontSize={13.5}>2021/08/13</tspan>
        </text>
        {statTicks.map((t) => (
          <g key={'st' + t}>
            {t !== 0 && <line x1={1199} x2={1600} y1={px(yStat(t))} y2={px(yStat(t))} stroke={RED} strokeDasharray="1 2" />}
            <text x={1195} y={yStat(t) + 5} textAnchor="end" fill={RED} fontFamily={MONO} fontSize={15}>{t}</text>
          </g>
        ))}
        {statCats.map((c, i) => {
          const v = statValues[i];
          const x0 = xs(c)!;
          return (
            <g key={'sc' + c}>
              {v > 0 && stripedBar('sb' + i, x0, 30, yStat(0), yStat(v), statColors[i])}
              <text x={x0} y={869} fill={statColors[i]} fontFamily={MONO} fontSize={14.5}>{v.toFixed(2)}</text>
              <line x1={px(x0)} x2={px(x0)} y1={874} y2={878} stroke={YELLOW} />
              <text x={x0} y={897} fill={statColors[i]} fontFamily={SANS} fontSize={15}>{c}</text>
            </g>
          );
        })}
        <line x1={1199} x2={1600} y1={878.5} y2={878.5} stroke={YELLOW} />
        <text x={1100} y={869} fill={GRAY} fontFamily={SANS} fontSize={15}>比例%</text>
        <text x={1100} y={888} fill={GRAY} fontFamily={SANS} fontSize={15}>分类</text>
      </svg>
    </div>
  );
}
